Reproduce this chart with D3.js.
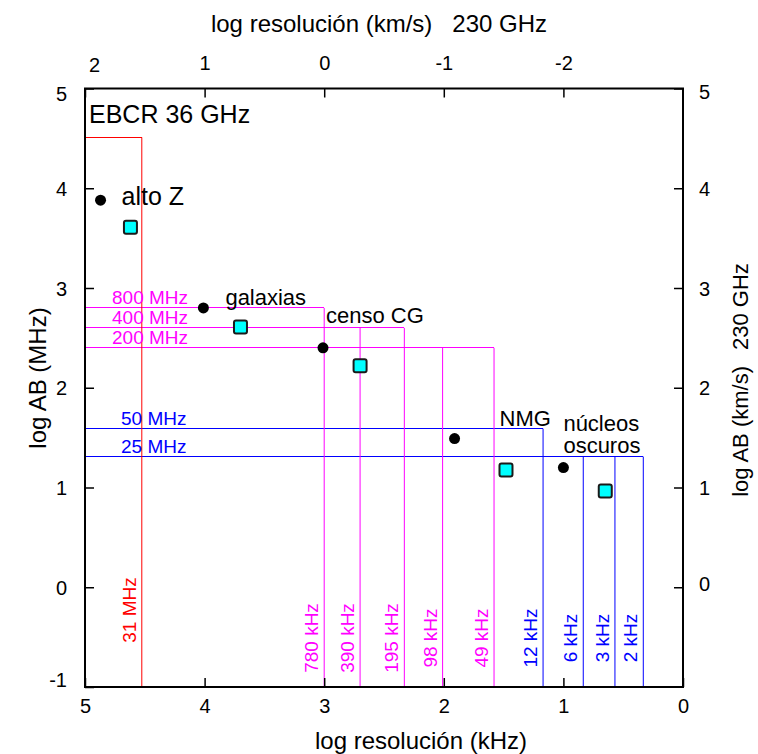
<!DOCTYPE html>
<html>
<head>
<meta charset="utf-8">
<script src="https://cdn.jsdelivr.net/npm/d3@7"></script>
<style>
  html, body { margin: 0; padding: 0; background: #fff; }
  svg { display: block; font-family: "Liberation Sans", Arial, sans-serif; }
</style>
</head>
<body>
<svg id="chart" width="758" height="754"></svg>
<script>
// Bandwidth settings (log MHz)
const bandNames = ["EBCR 36 GHz", "800 MHz", "400 MHz", "200 MHz", "50 MHz", "25 MHz"];
const bandLogMHz = [4.51, 2.80, 2.60, 2.40, 1.59, 1.31];
const bandGroup = [0, 1, 1, 1, 2, 2];

// Channel resolutions (log kHz) and the bandwidth each one belongs to
const channelNames = ["31 MHz", "780 kHz", "390 kHz", "195 kHz", "98 kHz", "49 kHz", "12 kHz", "6 kHz", "3 kHz", "2 kHz"];
const channelLogKHz = [4.525, 3.00, 2.70, 2.33, 2.01, 1.58, 1.17, 0.834, 0.569, 0.332];
const channelBand = [0, 1, 2, 2, 3, 3, 4, 5, 5, 5];

// Science cases: required resolution / bandwidth ("\n" marks a line break in the label)
const caseNames = ["alto Z", "galaxias", "censo CG", "NMG", "núcleos\noscuros"];
const caseLogKHz = [4.87, 4.01, 3.01, 1.91, 1.00];
const caseLogMHz = [3.88, 2.80, 2.40, 1.49, 1.20];
// The same cases observed at 230 GHz
const case230LogKHz = [4.62, 3.70, 2.70, 1.48, 0.65];
const case230LogMHz = [3.61, 2.61, 2.22, 1.175, 0.965];

// Axis ticks
const bottomTicks = [5, 4, 3, 2, 1, 0];
const leftTicks = [5, 4, 3, 2, 1, 0, -1];
const topTicks = [2, 1, 0, -1, -2];
const rightTicks = [5, 4, 3, 2, 1, 0];

// ---- layout & styles ----
const plot = { left: 85, right: 683, top: 88.5, bottom: 687 };
const groupColor = ["#ff0000", "#ff00ff", "#0000ff"];
const groupLabelX = [89, 112, 121];
const caseLabelOffset = [[21, 5], [22, -3], [3, -25], [45, -13], [0, -37]];
const caseLabelSize = [25, 22, 22, 22, 22];
const plain = d => String(d);

const svg = d3.select("#chart");

const x = d3.scaleLinear().domain([5, 0]).range([plot.left, plot.right]);
const y = d3.scaleLinear().domain([-1, 5]).range([plot.bottom, plot.top]);
// velocity resolution at 230 GHz shares the positions of the kHz axis, shifted by 3 decades
const xTop = d3.scaleLinear().domain([2, -3]).range([plot.left, plot.right]);

// ---- bandwidth boxes ----
const bandEnd = bandLogMHz.map((_, i) =>
  d3.min(channelLogKHz.filter((_, j) => channelBand[j] === i)));

const lines = svg.append("g").attr("stroke-width", 1);

lines.selectAll("line.band")
  .data(bandLogMHz)
  .join("line")
  .attr("class", "band")
  .attr("shape-rendering", "crispEdges")
  .attr("x1", plot.left)
  .attr("x2", (d, i) => x(bandEnd[i]))
  .attr("y1", d => y(d))
  .attr("y2", d => y(d))
  .attr("stroke", (d, i) => groupColor[bandGroup[i]]);

lines.selectAll("line.chan")
  .data(channelLogKHz)
  .join("line")
  .attr("class", "chan")
  .attr("x1", d => x(d))
  .attr("x2", d => x(d))
  .attr("y1", (d, j) => y(bandLogMHz[channelBand[j]]))
  .attr("y2", plot.bottom)
  .attr("stroke", (d, j) => groupColor[bandGroup[channelBand[j]]]);

// bandwidth labels
svg.append("g").selectAll("text")
  .data(bandNames.slice(1))
  .join("text")
  .attr("x", (d, i) => groupLabelX[bandGroup[i + 1]])
  .attr("y", (d, i) => y(bandLogMHz[i + 1]) - 4)
  .attr("font-size", 19)
  .attr("fill", (d, i) => groupColor[bandGroup[i + 1]])
  .text(d => d);

// instrument title for the wide band
svg.append("text")
  .attr("x", groupLabelX[0])
  .attr("y", 122.5)
  .attr("font-size", 25)
  .attr("fill", "#000")
  .text(bandNames[0]);

// channel resolution labels (vertical)
svg.append("g").selectAll("text")
  .data(channelNames)
  .join("text")
  .attr("transform", (d, j) => {
    const cy = channelBand[j] === 0 ? 610 : 638;
    return `translate(${x(channelLogKHz[j]) - 6},${cy}) rotate(-90)`;
  })
  .attr("text-anchor", "middle")
  .attr("font-size", 19)
  .attr("fill", (d, j) => groupColor[bandGroup[channelBand[j]]])
  .text(d => d);

// ---- science cases ----
svg.append("g").selectAll("circle")
  .data(caseLogKHz)
  .join("circle")
  .attr("cx", d => x(d))
  .attr("cy", (d, i) => y(caseLogMHz[i]))
  .attr("r", 5.5)
  .attr("fill", "#000");

const sq = 13;
svg.append("g").selectAll("rect")
  .data(case230LogKHz)
  .join("rect")
  .attr("x", d => x(d) - sq / 2)
  .attr("y", (d, i) => y(case230LogMHz[i]) - sq / 2)
  .attr("width", sq)
  .attr("height", sq)
  .attr("rx", 2)
  .attr("fill", "#00ffff")
  .attr("stroke", "#1a1a1a")
  .attr("stroke-width", 2);

const caseLabels = svg.append("g").selectAll("text")
  .data(caseNames)
  .join("text")
  .attr("x", (d, i) => x(caseLogKHz[i]) + caseLabelOffset[i][0])
  .attr("y", (d, i) => y(caseLogMHz[i]) + caseLabelOffset[i][1])
  .attr("font-size", (d, i) => caseLabelSize[i])
  .attr("fill", "#000");
caseLabels.each(function (d) {
  const t = d3.select(this);
  const x0 = t.attr("x");
  d.split("\n").forEach((w, k) => {
    t.append("tspan").attr("x", x0).attr("dy", k === 0 ? 0 : 22.5).text(w);
  });
});

// ---- axes ----
function styleAxis(g) {
  g.select(".domain").remove();
  g.selectAll(".tick line").attr("stroke", "#000").attr("stroke-width", 1.5);
  g.selectAll(".tick text").attr("fill", "#000").attr("font-size", 20)
    .attr("font-family", "Liberation Sans, Arial, sans-serif");
}

svg.append("g")
  .attr("transform", `translate(0,${plot.bottom})`)
  .call(d3.axisBottom(x).tickValues(bottomTicks).tickSizeInner(-9).tickSizeOuter(0).tickPadding(12).tickFormat(plain))
  .call(styleAxis);

svg.append("g")
  .attr("transform", `translate(0,${plot.top})`)
  .call(d3.axisTop(xTop).tickValues(topTicks).tickSizeInner(-9).tickSizeOuter(0).tickPadding(19).tickFormat(plain))
  .call(styleAxis)
  .call(g => g.selectAll(".tick text").filter(d => d === 2).attr("dx", 9).attr("dy", 2));

svg.append("g")
  .attr("transform", `translate(${plot.left},0)`)
  .call(d3.axisLeft(y).tickValues(leftTicks).tickSizeInner(-9).tickSizeOuter(0).tickPadding(18).tickFormat(plain))
  .call(styleAxis)
  .call(g => g.selectAll(".tick text")
    .attr("dy", d => d === 5 ? "0.6em" : d === -1 ? "-0.05em" : "0.35em"));

svg.append("g")
  .attr("transform", `translate(${plot.right},0)`)
  .call(d3.axisRight(y).tickValues(rightTicks).tickSizeInner(-9).tickSizeOuter(0).tickPadding(16).tickFormat(plain))
  .call(styleAxis)
  .call(g => g.selectAll(".tick text").attr("dy", d => d === 5 ? "0.5em" : d === 0 ? "0.15em" : "0.35em"));

// frame
svg.append("rect")
  .attr("x", plot.left).attr("y", plot.top)
  .attr("width", plot.right - plot.left).attr("height", plot.bottom - plot.top)
  .attr("fill", "none").attr("stroke", "#000").attr("stroke-width", 2);

// ---- axis titles ----
const topTitle = svg.append("text")
  .attr("x", 379).attr("y", 32)
  .attr("text-anchor", "middle").attr("font-size", 24).attr("fill", "#000");
topTitle.append("tspan").text("log resolución (km/s)");
topTitle.append("tspan").attr("dx", 20).text("230 GHz");

svg.append("text")
  .attr("x", 421).attr("y", 749)
  .attr("text-anchor", "middle").attr("font-size", 24).attr("fill", "#000")
  .text("log resolución (kHz)");

svg.append("text")
  .attr("transform", "translate(46,378) rotate(-90)")
  .attr("text-anchor", "middle").attr("font-size", 24).attr("fill", "#000")
  .text("log AB (MHz)");

const rightTitle = svg.append("text")
  .attr("transform", "translate(748,380) rotate(-90)")
  .attr("text-anchor", "middle").attr("font-size", 22).attr("fill", "#000");
rightTitle.append("tspan").text("log AB (km/s)");
rightTitle.append("tspan").attr("dx", 16).text("230 GHz");
</script>
</body>
</html>
